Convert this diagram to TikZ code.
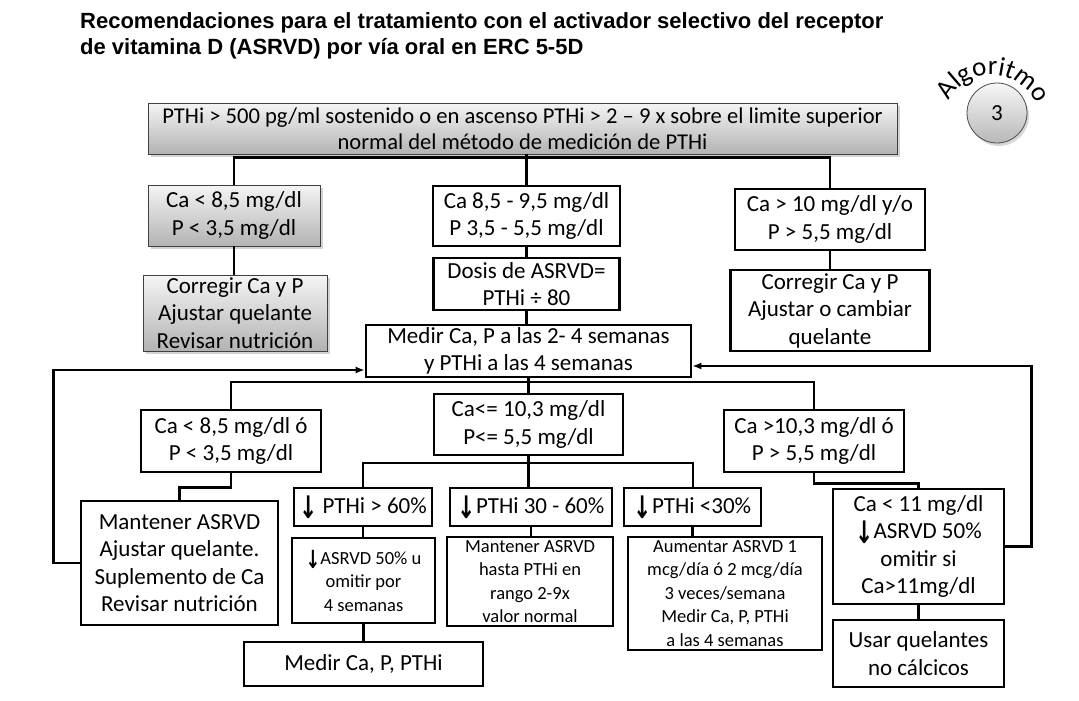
\documentclass[tikz,border=0pt]{standalone}
\usepackage{fontspec}
\usepackage{graphicx}
\setmainfont{Carlito}
\newfontfamily\titlefont{Liberation Sans}
\newfontfamily\arrfont{DejaVu Sans}
\usetikzlibrary{arrows.meta,shadows,decorations.text}
\newcommand\dn{\raisebox{-0.22em}{\scalebox{0.95}[1.35]{\arrfont\bfseries ↓}}}
\tikzset{
  wbox/.style={draw=black, line width=2.6pt, fill=white, align=center, inner sep=0pt,
    font=\fontsize{23}{27.5}\selectfont},
  sbox/.style={wbox, font=\fontsize{18.5}{23.5}\selectfont},
  gbox/.style={draw=black!75, line width=0.8pt, top color=black!4, bottom color=black!30,
    align=center, inner sep=0pt, drop shadow={shadow xshift=2.5pt,shadow yshift=-2.5pt,opacity=0.35},
    font=\fontsize{23}{27.5}\selectfont},
  conn/.style={line width=2.6pt},
  thin conn/.style={line width=2pt},
  arr/.style={line width=2.6pt, -{Latex[length=9pt,width=7pt]}},
}
\begin{document}
\begin{tikzpicture}[x=1pt,y=-1pt]
\useasboundingbox (0,0) rectangle (1079,701);
\fill[white] (0,0) rectangle (1079,701);

% title
\node[anchor=north west, align=left, inner sep=0pt,
  font=\titlefont\bfseries\fontsize{22}{26}\selectfont] (title) at (80,12)
  {Recomendaciones para el tratamiento con el activador selectivo del receptor\\
   de vitamina D (ASRVD) por vía oral en ERC 5-5D};

% algoritmo badge
\node[circle, draw=black!70, line width=0.8pt, minimum size=60pt, inner sep=0pt,
  top color=black!3, bottom color=black!28,
  drop shadow={shadow xshift=2pt,shadow yshift=-3pt,opacity=0.3},
  font=\fontsize{23}{26}\selectfont] (alg) at (997,113) {3};
\coordinate (algc) at (992,123);
\path[decorate, decoration={text along path, text align=center,
  text={|\fontsize{27}{30}\selectfont|Algoritmo}}]
  (algc) ++(198:48) arc[start angle=198, end angle=346, radius=48];

% top
\node[gbox, minimum width=749pt, minimum height=51pt, font=\fontsize{22.6}{26}\selectfont] (top) at (522.5,128.5)
  {PTHi > 500 pg/ml sostenido o en ascenso PTHi > 2 – 9 x sobre el limite superior\\
   normal del método de medición de PTHi};

% level 1
\node[gbox, minimum width=172pt, minimum height=61pt] (L1) at (234,215.5)
  {Ca < 8,5 mg/dl\\P < 3,5 mg/dl};
\node[gbox, minimum width=184pt, minimum height=76pt] (L2) at (235,313)
  {Corregir Ca y P\\Ajustar quelante\\Revisar nutrición};
\node[wbox, minimum width=187pt, minimum height=60pt] (C1) at (526.5,216)
  {Ca 8,5 - 9,5 mg/dl\\P 3,5 - 5,5 mg/dl};
\node[wbox, minimum width=186pt, minimum height=52pt] (C2) at (526.5,284)
  {Dosis de ASRVD=\\PTHi ÷ 80};
\node[wbox, minimum width=325pt, minimum height=52pt] (C3) at (528.5,351)
  {Medir Ca, P a las 2- 4 semanas\\y PTHi a las 4 semanas};
\node[wbox, minimum width=190pt, minimum height=61pt] (R1) at (830,219.5)
  {Ca > 10 mg/dl y/o\\P > 5,5 mg/dl};
\node[wbox, minimum width=199pt, minimum height=81pt] (R2) at (830,310.5)
  {Corregir Ca y P\\Ajustar o cambiar\\quelante};

% level 2
\node[wbox, minimum width=180pt, minimum height=62pt] (L3) at (231,441)
  {Ca < 8,5 mg/dl ó\\P < 3,5 mg/dl};
\node[wbox, minimum width=197pt, minimum height=124pt] (L4) at (179.5,563)
  {Mantener ASRVD\\Ajustar quelante.\\Suplemento de Ca\\Revisar nutrición};
\node[wbox, minimum width=189pt, minimum height=61pt] (C4) at (528.5,424.5)
  {Ca<= 10,3 mg/dl\\P<= 5,5 mg/dl};
\node[wbox, minimum width=180pt, minimum height=62pt] (R3) at (814,441)
  {Ca >10,3 mg/dl ó\\P > 5,5 mg/dl};

\node[wbox, minimum width=138pt, minimum height=38pt] (D1) at (363,507)
  {\dn\ PTHi > 60\%};
\node[wbox, minimum width=162pt, minimum height=38pt] (D2) at (531,507)
  {\dn PTHi 30 - 60\%};
\node[wbox, minimum width=137pt, minimum height=38pt] (D3) at (692.5,507)
  {\dn PTHi <30\%};

\node[sbox, minimum width=143pt, minimum height=85pt] (E1) at (363.5,580.5)
  {\dn ASRVD 50\% u\\omitir por\\4 semanas};
\node[sbox, minimum width=166pt, minimum height=89pt] (E2) at (530,581.5)
  {Mantener ASRVD\\hasta PTHi en\\rango 2-9x\\valor normal};
\node[sbox, minimum width=194pt, minimum height=113pt] (E3) at (725,593.5)
  {Aumentar ASRVD 1\\mcg/día ó 2 mcg/día\\3 veces/semana\\Medir Ca, P, PTHi\\a las 4 semanas};
\node[wbox, minimum width=239pt, minimum height=44pt] (F1) at (363.5,664)
  {Medir Ca, P, PTHi};

\node[wbox, minimum width=171pt, minimum height=115pt] (R4) at (918.5,546.5)
  {Ca < 11 mg/dl\\\dn ASRVD 50\%\\omitir si\\Ca>11mg/dl};
\node[wbox, minimum width=171pt, minimum height=67pt] (R5) at (918.5,653.5)
  {Usar quelantes\\no cálcicos};

% connectors
\draw[conn] (C1.north |- top.south) -- (C1.north);
\draw[conn] (L1.north) -- ++(0,-27) -| (R1.north);
\draw[conn] (L1.south) -- (L1.south |- L2.north);
\draw[conn] (C1.south) -- (C2.north);
\draw[conn] (C2.south) -- (C2.south |- C3.north);
\draw[conn] (R1.south) -- (R2.north);

\draw[conn] (C3.south) -- (C4.north);
\draw[thin conn] (L3.north) -- ++(0,-27) -| (R3.north);
\draw[conn] (L3.south) -- ++(0,14) -| (L4.north);
\draw[conn] (R3.south) -- ++(0,10) -| (R4.north);
\draw[conn] (R4.south) -- (R5.north);

\draw[conn] (C4.south) -- (C4.south |- D2.north);
\draw[thin conn] (D1.north) -- ++(0,-24) -| (D3.north);
\draw[conn] (D1.south) -- (D1.south |- E1.north);
\draw[conn] (D2.south) -- (D2.south |- E2.north);
\draw[conn] (D3.south) -- (D3.south |- E3.north);
\draw[conn] (E1.south) -- (E1.south |- F1.north);

\draw[arr] (L4.west) -- ++(-26,0) |- (C3.west |- 0,370);
\draw[arr] (R4.east) -- ++(26,0) |- (C3.east |- 0,366);
\end{tikzpicture}
\end{document}
